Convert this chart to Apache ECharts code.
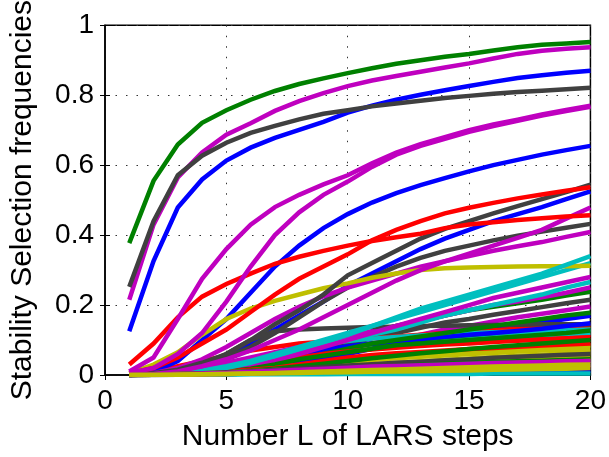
<!DOCTYPE html>
<html>
<head>
<meta charset="utf-8">
<script src="https://cdn.jsdelivr.net/npm/echarts@6/dist/echarts.min.js"></script>
<style>html,body{margin:0;padding:0;background:#fff;}#chart{width:609px;height:457px;}</style>
</head>
<body>
<div id="chart"></div>
<script>
// ---- data ----
const steps = [1,2,3,4,5,6,7,8,9,10,11,12,13,14,15,16,17,18,19,20];
const xTicks = [0,5,10,15,20];
const yTicks = [0,0.2,0.4,0.6,0.8,1];
const xTitle = 'Number L of LARS steps';
const yTitle = 'Stability Selection frequencies';

// blue lines
const blueTop = [0.125,0.326,0.479,0.559,0.613,0.65,0.678,0.701,0.724,0.75,0.77,0.787,0.801,0.814,0.826,0.838,0.849,0.857,0.864,0.87];
const blueMid = [0.003,0.01,0.04,0.1,0.16,0.235,0.31,0.37,0.42,0.46,0.493,0.52,0.543,0.563,0.582,0.6,0.615,0.63,0.643,0.655];
const blueLow = [0.0,0.004,0.012,0.03,0.055,0.09,0.13,0.17,0.21,0.255,0.29,0.325,0.36,0.39,0.415,0.44,0.46,0.48,0.503,0.525];
const blueC = [0.0,0.001,0.002,0.005,0.01,0.015,0.025,0.035,0.045,0.06,0.075,0.09,0.1,0.11,0.12,0.13,0.14,0.15,0.16,0.169];
const blueD = [0.0,0.001,0.002,0.003,0.005,0.007,0.009,0.011,0.013,0.015,0.017,0.019,0.021,0.023,0.024,0.026,0.027,0.028,0.029,0.03];
const blueE = [0.0,0.002,0.005,0.01,0.02,0.03,0.045,0.06,0.072,0.082,0.09,0.097,0.103,0.109,0.115,0.12,0.126,0.132,0.14,0.148];
const blueF = [0.0,0.0,0.001,0.002,0.003,0.004,0.005,0.006,0.007,0.008,0.008,0.009,0.009,0.01,0.01,0.011,0.011,0.012,0.012,0.012];

// green lines
const greenTop = [0.377,0.555,0.659,0.721,0.757,0.787,0.812,0.832,0.848,0.863,0.877,0.89,0.9,0.91,0.918,0.928,0.937,0.944,0.948,0.952];
const greenA = [0.0,0.001,0.003,0.008,0.015,0.025,0.04,0.06,0.08,0.1,0.12,0.14,0.155,0.17,0.185,0.195,0.205,0.215,0.227,0.238];
const greenB = [0.0,0.001,0.003,0.006,0.012,0.02,0.03,0.045,0.06,0.075,0.09,0.1,0.11,0.12,0.13,0.14,0.15,0.16,0.17,0.178];
const greenC = [0.0,0.001,0.003,0.006,0.01,0.018,0.03,0.045,0.055,0.065,0.075,0.085,0.09,0.095,0.1,0.105,0.11,0.115,0.12,0.127];
const greenD = [0.0,0.001,0.002,0.004,0.008,0.012,0.018,0.025,0.032,0.04,0.048,0.055,0.062,0.068,0.074,0.08,0.085,0.09,0.095,0.1];
const greenE = [0.0,0.002,0.006,0.012,0.022,0.035,0.05,0.062,0.072,0.08,0.088,0.095,0.102,0.108,0.114,0.12,0.125,0.13,0.135,0.14];
const greenF = [0.0,0.001,0.002,0.003,0.005,0.008,0.011,0.014,0.017,0.02,0.023,0.026,0.029,0.032,0.034,0.037,0.039,0.041,0.043,0.045];

// red lines
const redA = [0.03,0.09,0.165,0.224,0.26,0.29,0.318,0.338,0.355,0.37,0.383,0.394,0.404,0.42,0.43,0.437,0.443,0.448,0.453,0.457];
const redB = [0.005,0.02,0.05,0.09,0.13,0.18,0.23,0.275,0.31,0.345,0.385,0.415,0.44,0.462,0.478,0.492,0.505,0.516,0.527,0.537];
const redC = [0.0,0.01,0.025,0.04,0.055,0.07,0.08,0.09,0.095,0.1,0.105,0.11,0.115,0.12,0.124,0.128,0.132,0.135,0.138,0.14];
const redD = [0.0,0.002,0.005,0.01,0.018,0.028,0.04,0.05,0.06,0.067,0.073,0.078,0.083,0.087,0.09,0.094,0.098,0.101,0.105,0.108];
const redE = [0.0,0.001,0.003,0.006,0.01,0.015,0.02,0.03,0.04,0.05,0.057,0.062,0.066,0.07,0.074,0.077,0.081,0.084,0.087,0.09];
const redF = [0.0,0.003,0.008,0.016,0.028,0.042,0.058,0.07,0.078,0.084,0.089,0.093,0.097,0.1,0.103,0.106,0.109,0.111,0.113,0.115];

// cyan lines
const cyanA = [0.0,0.002,0.005,0.01,0.02,0.035,0.055,0.075,0.095,0.115,0.14,0.165,0.19,0.21,0.23,0.25,0.27,0.29,0.315,0.34];
const cyanB = [0.0,0.002,0.006,0.012,0.025,0.04,0.06,0.08,0.1,0.12,0.14,0.16,0.18,0.2,0.22,0.24,0.26,0.28,0.3,0.32];
const cyanC = [0.0,0.002,0.005,0.01,0.02,0.035,0.05,0.07,0.085,0.1,0.115,0.13,0.15,0.17,0.185,0.2,0.215,0.23,0.25,0.266];
const cyanD = [0.0,0.002,0.005,0.012,0.02,0.035,0.05,0.065,0.075,0.085,0.09,0.095,0.1,0.103,0.106,0.109,0.112,0.115,0.117,0.12];
const cyanE = [0.0,0.0,0.001,0.001,0.001,0.002,0.002,0.002,0.002,0.003,0.003,0.003,0.003,0.003,0.003,0.004,0.004,0.004,0.004,0.004];
const cyanF = [0.0,0.003,0.008,0.018,0.03,0.045,0.06,0.075,0.088,0.097,0.104,0.109,0.113,0.117,0.12,0.122,0.124,0.126,0.128,0.13];

// magenta lines
const magTop = [0.215,0.43,0.565,0.636,0.687,0.72,0.755,0.783,0.806,0.826,0.842,0.855,0.867,0.879,0.891,0.905,0.918,0.927,0.933,0.937];
const magA = [0.01,0.05,0.16,0.275,0.36,0.43,0.48,0.515,0.545,0.571,0.605,0.636,0.66,0.68,0.7,0.716,0.73,0.745,0.758,0.77];
const magB = [0.005,0.02,0.06,0.12,0.21,0.31,0.4,0.465,0.515,0.553,0.595,0.63,0.655,0.675,0.695,0.712,0.727,0.742,0.755,0.767];
const magC = [0.0,0.003,0.01,0.025,0.045,0.07,0.1,0.13,0.165,0.2,0.235,0.27,0.3,0.325,0.347,0.37,0.392,0.415,0.447,0.479];
const magD = [0.0,0.005,0.02,0.045,0.08,0.12,0.16,0.195,0.225,0.25,0.27,0.29,0.31,0.325,0.34,0.355,0.368,0.38,0.395,0.409];
const magF = [0.0,0.001,0.003,0.008,0.015,0.025,0.04,0.06,0.08,0.1,0.12,0.14,0.16,0.18,0.2,0.22,0.235,0.25,0.265,0.28];
const magG = [0.0,0.003,0.01,0.02,0.035,0.05,0.065,0.08,0.095,0.11,0.125,0.14,0.155,0.17,0.185,0.2,0.21,0.222,0.235,0.25];
const magH = [0.0,0.002,0.006,0.012,0.02,0.03,0.04,0.05,0.06,0.075,0.09,0.1,0.115,0.13,0.14,0.153,0.165,0.175,0.185,0.196];
const magI = [0.0,0.0,0.001,0.002,0.003,0.004,0.006,0.008,0.01,0.012,0.013,0.015,0.016,0.018,0.019,0.02,0.021,0.022,0.024,0.025];
const magJ = [0.0,0.001,0.002,0.004,0.006,0.009,0.012,0.015,0.018,0.021,0.024,0.026,0.028,0.03,0.032,0.034,0.036,0.037,0.039,0.04];

// yellow lines
const yelTop = [0.005,0.03,0.065,0.115,0.16,0.19,0.212,0.23,0.248,0.262,0.278,0.29,0.3,0.305,0.307,0.309,0.31,0.311,0.311,0.312];
const yelB = [0.0,0.002,0.005,0.009,0.013,0.018,0.023,0.028,0.033,0.038,0.043,0.048,0.052,0.056,0.06,0.063,0.067,0.07,0.073,0.076];
const yelC = [0.0,0.001,0.003,0.005,0.008,0.011,0.014,0.017,0.02,0.023,0.026,0.029,0.032,0.035,0.038,0.041,0.044,0.047,0.05,0.053];
const yelD = [0.0,0.001,0.002,0.004,0.007,0.01,0.014,0.018,0.022,0.027,0.031,0.035,0.039,0.043,0.047,0.051,0.055,0.058,0.062,0.065];
const yelE = [0.0,0.0,0.001,0.002,0.003,0.004,0.005,0.006,0.007,0.008,0.009,0.01,0.011,0.012,0.013,0.015,0.016,0.017,0.018,0.02];
const yelF = [0.0,0.001,0.002,0.003,0.005,0.007,0.009,0.012,0.014,0.017,0.019,0.022,0.024,0.027,0.029,0.031,0.034,0.036,0.038,0.04];
const yelG = [0.0,0.002,0.004,0.008,0.012,0.017,0.022,0.028,0.034,0.04,0.046,0.052,0.057,0.062,0.067,0.071,0.075,0.079,0.082,0.085];
const yelH = [0.0,0.0,0.001,0.002,0.003,0.004,0.006,0.008,0.01,0.012,0.014,0.016,0.018,0.02,0.022,0.024,0.026,0.027,0.029,0.03];

// dark gray lines
const grayTop = [0.252,0.44,0.571,0.627,0.664,0.692,0.712,0.731,0.747,0.757,0.768,0.776,0.784,0.792,0.798,0.804,0.809,0.813,0.817,0.821];
const grayUp = [0.0,0.005,0.015,0.035,0.06,0.1,0.145,0.185,0.23,0.285,0.32,0.355,0.39,0.418,0.44,0.462,0.483,0.503,0.523,0.544];
const grayLow = [0.0,0.005,0.015,0.03,0.05,0.08,0.12,0.165,0.21,0.25,0.28,0.31,0.335,0.355,0.37,0.385,0.398,0.41,0.421,0.432];
const grayFlat = [0.0,0.005,0.015,0.03,0.06,0.1,0.125,0.13,0.133,0.135,0.137,0.138,0.14,0.141,0.142,0.143,0.144,0.145,0.145,0.145];
const grayC = [0.0,0.002,0.005,0.01,0.02,0.03,0.045,0.06,0.075,0.09,0.105,0.12,0.135,0.15,0.16,0.172,0.183,0.194,0.205,0.215];
const grayD = [0.0,0.001,0.002,0.003,0.005,0.007,0.009,0.011,0.013,0.015,0.017,0.019,0.021,0.023,0.025,0.027,0.029,0.031,0.033,0.034];
const grayE = [0.0,0.001,0.003,0.005,0.008,0.011,0.015,0.019,0.023,0.027,0.031,0.035,0.038,0.042,0.045,0.049,0.052,0.055,0.058,0.06];

// ---- style ----
const colors = {b:'#0000FF', g:'#008000', r:'#FF0000', c:'#00BFBF', m:'#BF00BF', y:'#BFBF00', k:'#404040'};

// draw order (MATLAB color cycle b g r c m y k)
const lines = [
  ['b', blueLow], ['g', greenA], ['r', redF], ['c', cyanD], ['m', magH], ['y', yelG], ['k', grayC],
  ['b', blueC], ['g', greenE], ['r', redC], ['c', cyanF], ['m', magG], ['y', yelB], ['k', grayFlat],
  ['b', blueE], ['g', greenB], ['r', redD], ['c', cyanC], ['m', magF], ['y', yelD], ['k', grayLow],
  ['b', blueMid], ['g', greenC], ['r', redE], ['c', cyanB], ['m', magD], ['y', yelTop], ['k', grayUp],
  ['b', blueD], ['g', greenD], ['r', redB], ['c', cyanA], ['m', magC], ['y', yelC], ['k', grayE],
  ['b', blueF], ['g', greenF], ['r', redA], ['c', cyanE], ['m', magB], ['y', yelF], ['k', grayD],
  ['b', blueTop], ['g', greenTop], ['m', magI], ['m', magJ], ['m', magA], ['y', yelH], ['y', yelE], ['m', magTop], ['k', grayTop]
];

const FONT = 'Liberation Sans';
const chart = echarts.init(document.getElementById('chart'), null, {renderer:'canvas'});

const series = lines.map(([ck, vals]) => ({
  type: 'line',
  xAxisIndex: 0, yAxisIndex: 0,
  data: steps.map((s, j) => [s, vals[j]]),
  showSymbol: false,
  symbol: 'none',
  lineStyle: {color: colors[ck], width: 4.5, cap: 'butt', join: 'miter'},
  itemStyle: {color: colors[ck]},
  z: 2,
  silent: true,
  animation: false
}));

const baseAxisLabel = {fontFamily: FONT, fontSize: 28, color: '#000'};

chart.setOption({
  animation: false,
  backgroundColor: '#fff',
  grid: {left: 101, top: 21, right: 17, bottom: 76, show: true, borderColor: '#000', borderWidth: 1.5, backgroundColor: 'transparent'},
  xAxis: [{
    type: 'value', min: xTicks[0], max: xTicks[xTicks.length-1], interval: 5, position: 'bottom',
    axisLine: {show: true, onZero: false, lineStyle: {color: '#000', width: 1.5}},
    axisTick: {show: true, inside: true, length: 5, lineStyle: {color: '#000'}},
    axisLabel: Object.assign({margin: 12}, baseAxisLabel),
    splitLine: {show: true, lineStyle: {color: '#333', type: [1.5, 9], width: 1}},
    name: xTitle, nameLocation: 'middle', nameGap: 47,
    nameTextStyle: {fontFamily: FONT, fontSize: 30, color: '#000'}
  }, {
    type: 'value', min: 0, max: 20, interval: 5, position: 'top',
    axisLine: {show: false},
    axisTick: {show: true, inside: true, length: 5, lineStyle: {color: '#000'}},
    axisLabel: {show: false}, splitLine: {show: false}
  }],
  yAxis: [{
    type: 'value', min: yTicks[0], max: yTicks[yTicks.length-1], interval: 0.2, position: 'left',
    axisLine: {show: true, onZero: false, lineStyle: {color: '#000', width: 1.5}},
    axisTick: {show: true, inside: true, length: 5, lineStyle: {color: '#000'}},
    axisLabel: Object.assign({margin: 11}, baseAxisLabel),
    splitLine: {show: true, lineStyle: {color: '#333', type: [1.5, 9], width: 1}},
    name: yTitle, nameLocation: 'middle', nameGap: 67,
    nameTextStyle: {fontFamily: FONT, fontSize: 30, color: '#000'}
  }, {
    type: 'value', min: 0, max: 1, interval: 0.2, position: 'right',
    axisLine: {show: false},
    axisTick: {show: true, inside: true, length: 5, lineStyle: {color: '#000'}},
    axisLabel: {show: false}, splitLine: {show: false}
  }],
  series: series
});
</script>
</body>
</html>
